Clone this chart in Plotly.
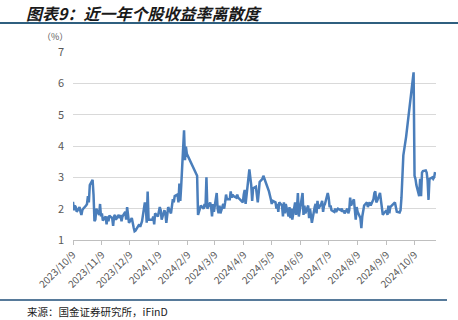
import pandas as pd
import plotly.graph_objects as go

# ---------------- data ----------------
start_date = "2023-10-09"
end_date = "2024-10-31"
market_holidays = [
    "2024-01-01", "2024-02-09", "2024-02-12", "2024-02-13", "2024-02-14",
    "2024-02-15", "2024-02-16", "2024-04-04", "2024-04-05", "2024-05-01",
    "2024-05-02", "2024-05-03", "2024-06-10", "2024-09-16", "2024-09-17",
    "2024-10-01", "2024-10-02", "2024-10-03", "2024-10-04", "2024-10-07",
]

oct23 = [2.22, 1.95, 2.1, 2.05, 1.9, 2.05, 1.9, 1.8, 1.95, 2.0, 2.1, 2.15, 2.4, 2.2, 2.75, 2.92, 2.45]
nov23 = [1.6, 1.65, 2.0, 1.8, 2.15, 1.75, 1.85, 1.62, 1.75, 1.5, 1.75, 1.6, 1.78, 1.7, 1.45, 1.75,
         1.8, 1.65, 1.8, 1.7, 1.8, 1.6]
dec23 = [1.75, 1.9, 1.65, 2.05, 1.85, 1.55, 1.7, 1.5, 1.4, 1.28, 1.3, 1.45, 1.5, 1.42, 1.55, 1.6,
         2.2, 2.05, 1.55, 2.55, 1.65]
jan24 = [1.65, 1.75, 1.5, 1.85, 1.75, 1.9, 2.05, 1.95, 1.65, 1.95, 1.85, 1.55, 1.9, 2.05, 1.85,
         2.15, 2.3, 2.2, 2.4, 2.45, 2.2, 2.8]
feb24 = [2.25, 2.75, 4.5, 3.55, 3.98, 3.75, 3.05, 1.8, 1.95, 2.0, 2.1, 2.0, 2.15, 2.05, 3.0]
mar24 = [2.0, 2.2, 2.05, 1.75, 2.15, 1.9, 2.5, 2.0, 1.85, 2.1, 1.85, 2.15, 2.0, 2.2, 2.45, 2.3,
         2.3, 2.55, 2.35, 2.45, 2.4]
apr24 = [2.35, 2.45, 2.35, 2.2, 2.45, 2.6, 2.15, 2.45, 3.25, 3.0, 2.75, 2.25, 2.65, 2.7, 2.45,
         2.2, 2.5, 2.85, 2.95, 3.05]
may24 = [2.55, 2.45, 2.3, 2.15, 2.25, 2.2, 2.0, 2.15, 1.9, 2.2, 2.1, 1.75, 2.2, 1.85, 2.15, 1.75,
         2.05, 1.7, 2.0, 1.65]
jun24 = [2.2, 1.8, 2.0, 2.5, 1.75, 2.5, 1.8, 2.1, 1.85, 2.1, 1.7, 2.0, 1.75, 1.55, 2.05, 2.15,
         1.85, 2.25, 2.0]
jul24 = [2.15, 2.25, 1.9, 2.1, 2.15, 2.5, 2.35, 2.05, 2.1, 1.95, 1.9, 2.0, 1.9, 1.95, 2.0, 1.95,
         2.0, 1.9, 1.95, 1.85, 2.0, 1.85, 1.95]
aug24 = [2.35, 2.1, 2.3, 1.95, 1.65, 2.05, 1.9, 1.7, 1.38, 1.75, 1.9, 2.1, 2.2, 2.05, 2.15, 2.2,
         2.1, 2.3, 2.5, 2.55, 2.2, 2.25]
sep24 = [2.5, 2.2, 2.0, 1.8, 1.85, 1.95, 1.8, 2.1, 1.85, 2.05, 2.2, 2.0, 1.9, 1.88, 1.95, 2.35,
         3.25, 3.7, 4.3]
oct24 = [6.35, 3.05, 2.95, 2.75, 2.4, 2.95, 2.4, 3.15, 3.2, 3.22, 3.15, 2.9, 2.28, 2.95, 3.0,
         2.95, 3.0, 3.17]

dispersion = oct23 + nov23 + dec23 + jan24 + feb24 + mar24 + apr24 + may24 + jun24 + jul24 + aug24 + sep24 + oct24

tick_dates = ["2023-10-09", "2023-11-09", "2023-12-09", "2024-01-09", "2024-02-09", "2024-03-09",
              "2024-04-09", "2024-05-09", "2024-06-09", "2024-07-09", "2024-08-09", "2024-09-09",
              "2024-10-09"]
tick_labels = ["2023/10/9", "2023/11/9", "2023/12/9", "2024/1/9", "2024/2/9", "2024/3/9",
               "2024/4/9", "2024/5/9", "2024/6/9", "2024/7/9", "2024/8/9", "2024/9/9",
               "2024/10/9"]

title_text = "图表9：近一年个股收益率离散度"
source_text = "来源：国金证券研究所，iFinD"
unit_text = "（%）"

# ---------------- figure ----------------
dates = [d for d in pd.bdate_range(start_date, end_date) if d.strftime("%Y-%m-%d") not in market_holidays]
assert len(dates) == len(dispersion), (len(dates), len(dispersion))

FONT = "Noto Sans CJK SC"
W, H = 458, 320
ML, MR, MT, MB = 73, 22, 52, 80
PW, PH = W - ML - MR, H - MT - MB


def px_x(x):
    return (x - ML) / PW


def px_y(y):
    return (H - MB - y) / PH


fig = go.Figure()
fig.add_trace(go.Scatter(x=dates, y=dispersion, mode="lines",
                         line=dict(color="#4a7ebb", width=2.5), hoverinfo="skip"))

fig.update_layout(
    width=W, height=H,
    margin=dict(l=ML, r=MR, t=MT, b=MB),
    paper_bgcolor="white", plot_bgcolor="white",
    showlegend=False,
    font=dict(family=FONT, color="#595959"),
    xaxis=dict(
        type="date", range=["2023-10-09", "2024-11-01"],
        tickvals=tick_dates, ticktext=tick_labels, tickangle=-45,
        tickfont=dict(size=10, color="#595959", family=FONT),
        ticks="outside", ticklen=4, tickcolor="#bfbfbf",
        showline=True, linecolor="#bfbfbf", linewidth=1,
        showgrid=False, zeroline=False,
    ),
    yaxis=dict(
        range=[1, 7], dtick=1, tick0=1,
        tickfont=dict(size=11, color="#595959", family=FONT),
        showgrid=True, gridcolor="#d9d9d9", gridwidth=1,
        zeroline=False, showline=False, ticks="", ticklabelstandoff=8,
    ),
)

fig.add_annotation(text=title_text, xref="paper", yref="paper",
                   x=px_x(24), y=px_y(12.5), xanchor="left", yanchor="middle",
                   showarrow=False,
                   font=dict(family=FONT, size=16, color="#1a1a1a", weight="bold", style="italic"))
fig.add_annotation(text=unit_text, xref="paper", yref="paper",
                   x=px_x(55), y=px_y(36), xanchor="center", yanchor="middle",
                   showarrow=False, font=dict(family=FONT, size=9, color="#595959"))
fig.add_annotation(text=source_text, xref="paper", yref="paper",
                   x=px_x(25), y=px_y(311), xanchor="left", yanchor="middle",
                   showarrow=False, font=dict(family=FONT, size=10.5, color="#1a1a1a"))

fig.add_shape(type="line", xref="paper", yref="paper",
              x0=px_x(0), x1=px_x(458), y0=px_y(23), y1=px_y(23),
              line=dict(color="#2f5f7f", width=2))
fig.add_shape(type="line", xref="paper", yref="paper",
              x0=px_x(0), x1=px_x(447), y0=px_y(300), y1=px_y(300),
              line=dict(color="#1f4e79", width=1.5))

fig.write_html("out.html")
